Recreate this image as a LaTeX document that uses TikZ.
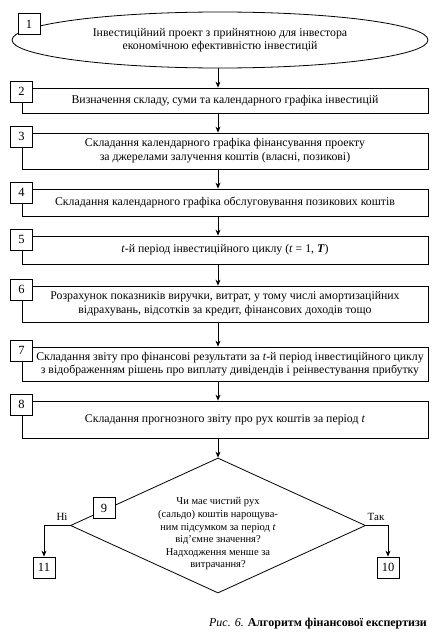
\documentclass[tikz,border=0pt]{standalone}
\usepackage{fontspec}
\setmainfont{Liberation Serif}
\usetikzlibrary{arrows.meta,shapes.geometric}

\tikzset{
  blk/.style={draw,line width=0.8pt,minimum width=406pt,inner sep=0pt,align=center},
  num/.style={draw,fill=white,line width=0.8pt,minimum width=22pt,minimum height=21pt,inner sep=0pt,font=\fontsize{12.5}{12.5}\selectfont},
  lbl/.style={inner sep=0pt,font=\fontsize{11}{12}\selectfont},
}

\begin{document}
\begin{tikzpicture}[x=1pt,y=-1pt,>={Stealth[length=6pt,width=5pt]},font=\fontsize{11.8}{14}\selectfont,line cap=round]
\useasboundingbox (0,0) rectangle (438,634);
\coordinate (ax) at (218,0);
\node[draw,ellipse,line width=0.8pt,minimum width=416pt,minimum height=56pt,inner sep=0pt,align=center,font=\fontsize{11.8}{13}\selectfont] (b1) at (220,40)
  {Інвестиційний проект з прийнятною для інвестора\\економічною ефективністю інвестицій};
\node[num] (n1) at (29,24) {1};
\node[blk,minimum height=25pt] (b2) at (225,100.5) {Визначення складу, суми та календарного графіка інвестицій};
\node[blk,minimum height=36pt] (b3) at (225,151) {Складання календарного графіка фінансування проекту\\за джерелами залучення коштів (власні, позикові)};
\node[blk,minimum height=27pt] (b4) at (225,202.5) {Складання календарного графіка обслуговування позикових коштів};
\node[blk,minimum height=28pt] (b5) at (225,250) {\textit{t}-й період інвестиційного циклу (\textit{t} = 1, \textbf{\textit{T}})};
\node[blk,minimum height=36pt] (b6) at (225,304) {Розрахунок показників виручки, витрат, у тому числі амортизаційних\\відрахувань, відсотків за кредит, фінансових доходів тощо};
\node[blk,minimum height=34pt] (b7) at (225,364) {};
\node[align=center,inner sep=0pt,font=\fontsize{11.8}{13}\selectfont] (t7) at ([xshift=5pt]b7.center) {Складання звіту про фінансові результати за \textit{t}-й період інвестиційного циклу\\з відображенням рішень про виплату дивідендів і реінвестування прибутку};
\node[blk,minimum height=37pt] (b8) at (225,419.5) {Складання прогнозного звіту про рух коштів за період \textit{t}};
\foreach \i in {2,...,8}
  \node[num,anchor=north] (n\i) at ([yshift=7pt]b\i.north west) {\i};
\node[draw,diamond,line width=0.8pt,minimum width=295pt,minimum height=135pt,inner sep=0pt] (d9) at (218,525.5) {};
\node[align=center,font=\fontsize{10.5}{12.6}\selectfont] (t9) at (218,534) {Чи має чистий рух\\(сальдо) коштів нарощува-\\ним підсумком за період \textit{t}\\від'ємне значення?\\Надходження менше за\\витрачання?};
\node[num] (n9) at (104,508) {9};
\node[num] (n11) at (44,567.5) {11};
\node[num] (n10) at (388,567.5) {10};
\node[lbl] (no) at (62,517) {Ні};
\node[lbl] (yes) at (376,517) {Так};
\draw[line width=0.8pt,->] (b1.south -| ax) -- (b2.north -| ax);
\foreach \i/\j in {2/3,3/4,4/5,5/6,6/7,7/8}
  \draw[line width=0.8pt,->] (b\i.south -| ax) -- (b\j.north -| ax);
\draw[line width=0.8pt,->] (b8.south -| ax) -- (d9.north);
\draw[line width=0.8pt,->] (d9.west) -| (n11.north);
\draw[line width=0.8pt,->] (d9.east) -| (n10.north);
\node[anchor=south east,inner sep=0pt,font=\fontsize{12}{14}\selectfont] (cap) at (427,629) {\textit{Рис. 6.} \textbf{Алгоритм фінансової експертизи}};
\end{tikzpicture}
\end{document}
